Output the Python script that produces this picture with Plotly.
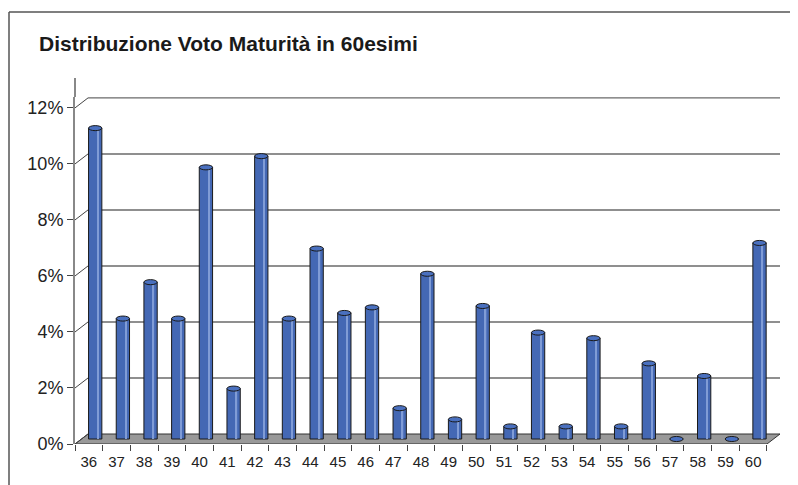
import plotly.graph_objects as go

# ---- data ----
categories = [str(v) for v in range(36, 61)]
values = [11.1, 4.3, 5.6, 4.3, 9.7, 1.8, 10.1, 4.3, 6.8, 4.5, 4.7, 1.1, 5.9,
          0.7, 4.75, 0.45, 3.8, 0.45, 3.6, 0.45, 2.7, 0.0, 2.25, 0.0, 7.0]
y_ticks = [0, 2, 4, 6, 8, 10, 12]
y_ticktext = [f"{t}%" for t in y_ticks]
title_text = "Distribuzione Voto Maturità in 60esimi"

# ---- 3D-look parameters (in axis units) ----
DX = 0.47        # depth offset along x (categories)
DY = 0.357       # depth offset along y (percent)
BAR_W = 0.48
SHIFT = 0.23     # bars stand in the middle of the depth
ELL_H = 0.09

# page has an 8px body margin: size the figure so it fits the 798x485 window
PAGE = 8
W, H = 798 - PAGE, 485 - PAGE
ML = 75 - PAGE
MT = 97 - PAGE
MB = H - (444 - PAGE)
MR = W - (780 - PAGE)
pw, ph = W - ML - MR, H - MT - MB


def px_x(x):
    return (x - PAGE - ML) / pw


def px_y(y):
    return (H - MB - (y - PAGE)) / ph


fig = go.Figure()

fig.add_trace(go.Bar(
    x=categories, y=values, base=DY / 2, width=BAR_W,
    offset=-BAR_W / 2 + SHIFT,
    marker=dict(color="#4468B4", line=dict(color="#1a1a1a", width=1)),
    hoverinfo="x+y", showlegend=False,
))
# light highlight stripe on each cylinder
fig.add_trace(go.Bar(
    x=categories, y=values, base=DY / 2, width=0.05,
    offset=SHIFT + 0.08,
    marker=dict(color="#809cd6", line=dict(width=0)),
    hoverinfo="skip", showlegend=False,
))

shapes = []
# floor
shapes.append(dict(
    type="path", xref="x", yref="y", layer="below",
    path=f"M -0.5,0 L 24.5,0 L {24.5 + DX},{DY} L {-0.5 + DX},{DY} Z",
    fillcolor="#999999", line=dict(color="#333333", width=1),
))
# back-wall gridlines and side-wall slants
for v in y_ticks:
    if v > 0:
        shapes.append(dict(type="line", xref="x", yref="y", layer="below",
                           x0=-0.5 + DX, x1=24.5 + DX, y0=v + DY, y1=v + DY,
                           line=dict(color="#6a6a6a", width=1.4)))
    shapes.append(dict(type="line", xref="x", yref="y", layer="below",
                       x0=-0.5, x1=-0.5 + DX, y0=v, y1=v + DY,
                       line=dict(color="#444444", width=1)))
# cylinder tops
for i, v in enumerate(values):
    cx = i + SHIFT
    top = DY / 2 + v
    shapes.append(dict(type="circle", xref="x", yref="y", layer="above",
                       x0=cx - BAR_W / 2, x1=cx + BAR_W / 2,
                       y0=top - ELL_H, y1=top + ELL_H,
                       fillcolor="#4a70bf", line=dict(color="#1a1a1a", width=1)))

# y axis extension above the wall and chart border
shapes.append(dict(type="line", xref="paper", yref="paper",
                   x0=0, x1=0, y0=1, y1=px_y(78),
                   line=dict(color="#888888", width=2)))
shapes.append(dict(type="line", xref="paper", yref="paper",
                   x0=px_x(9), x1=px_x(9), y0=px_y(12), y1=px_y(495),
                   line=dict(color="#555555", width=1.5)))
shapes.append(dict(type="line", xref="paper", yref="paper",
                   x0=px_x(9), x1=px_x(810), y0=px_y(12), y1=px_y(12),
                   line=dict(color="#555555", width=1.5)))

fig.update_layout(
    width=W, height=H,
    margin=dict(l=ML, r=MR, t=MT, b=MB, autoexpand=False),
    paper_bgcolor="white", plot_bgcolor="white",
    barmode="overlay",
    shapes=shapes,
    font=dict(family="Liberation Sans, Arial, sans-serif", color="#222222"),
    annotations=[dict(
        text=f"<b>{title_text}</b>", xref="paper", yref="paper",
        x=px_x(37), y=px_y(44), xanchor="left", yanchor="middle",
        showarrow=False, font=dict(size=21, color="#1a1a1a"),
    )],
)
fig.update_xaxes(
    type="category", categoryorder="array", categoryarray=categories,
    range=[-0.5, 24.5 + DX], tickson="boundaries", ticks="outside",
    ticklen=6, tickcolor="#444444", showline=False, showgrid=False,
    zeroline=False, tickfont=dict(size=15), ticklabelstandoff=7,
)
fig.update_yaxes(
    range=[0, 12.39], tickvals=y_ticks, ticktext=y_ticktext,
    ticks="outside", ticklen=6, tickcolor="#444444",
    showline=True, linecolor="#888888", linewidth=2,
    showgrid=False, zeroline=False, tickfont=dict(size=18),
)

fig.write_html("out.html")
